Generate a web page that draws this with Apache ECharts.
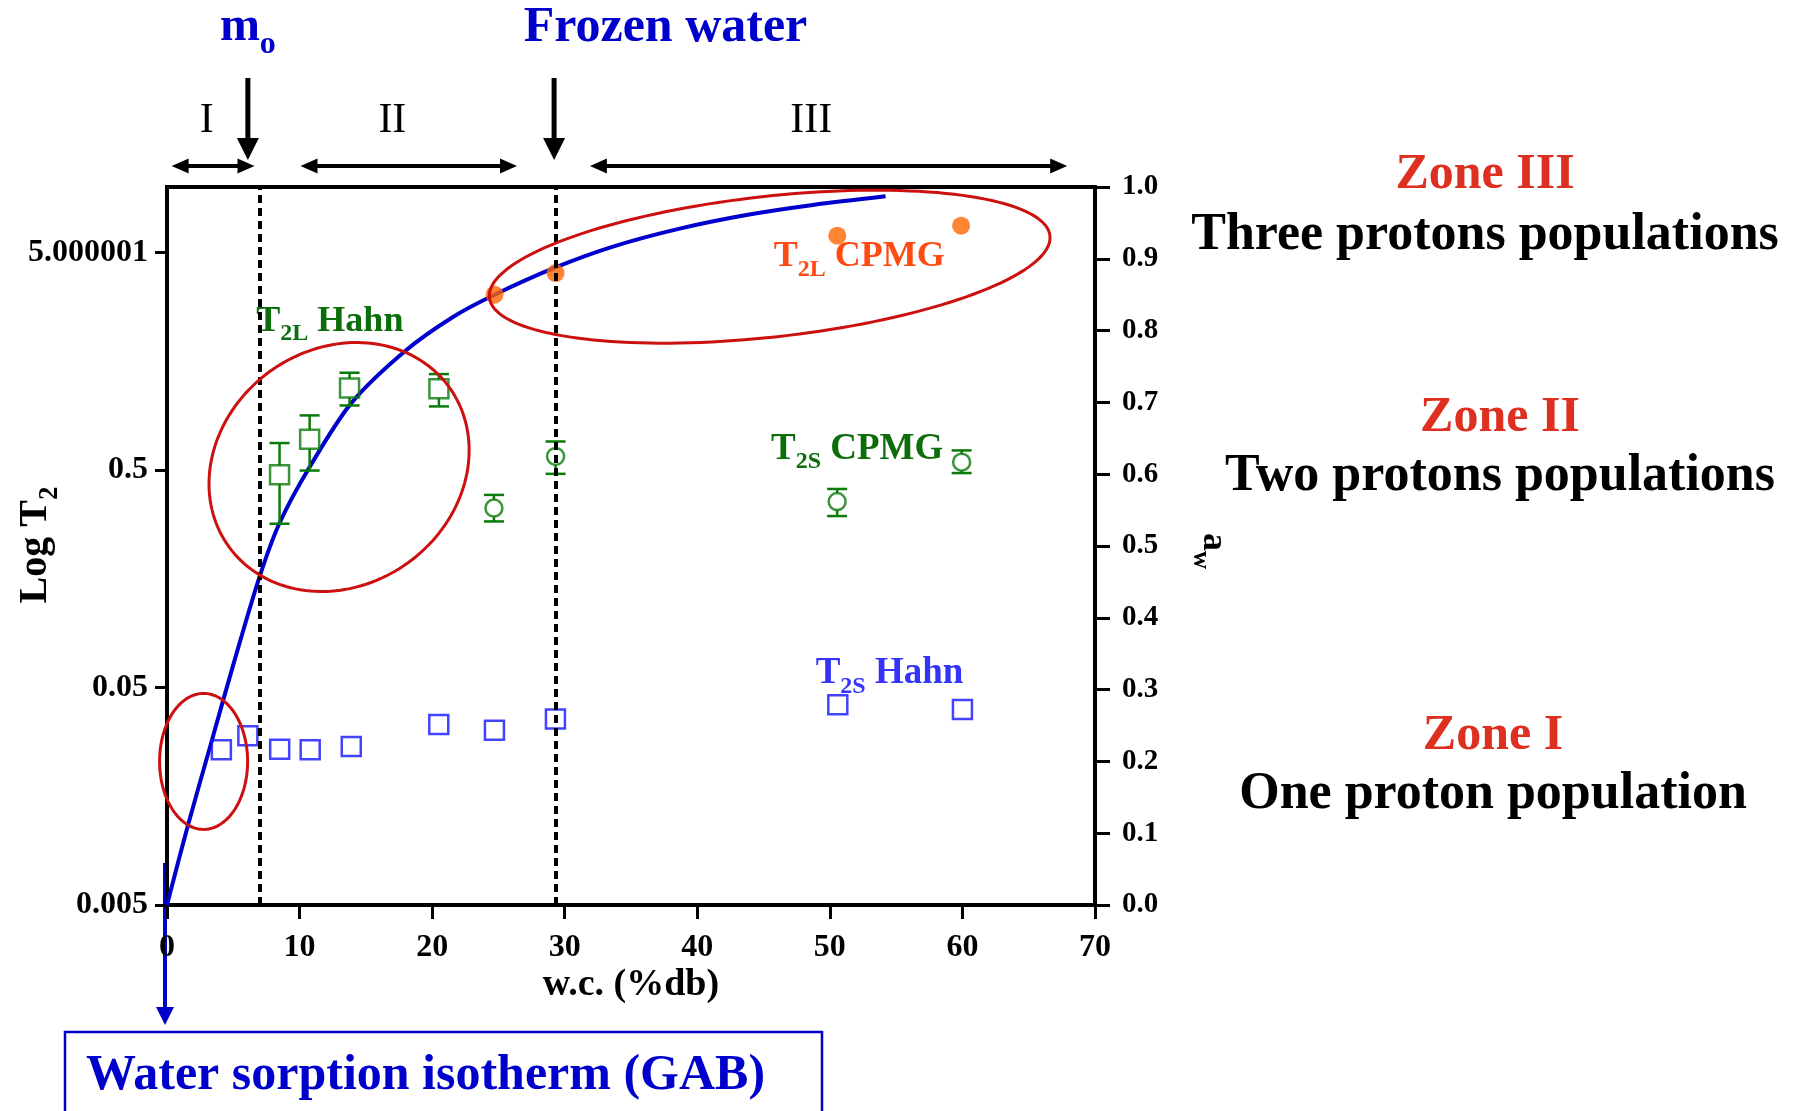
<!DOCTYPE html>
<html><head><meta charset="utf-8">
<script src="https://cdn.jsdelivr.net/npm/echarts@6/dist/echarts.min.js"></script>
<style>html,body{margin:0;padding:0;background:#fff}#c{width:1798px;height:1111px}</style>
</head><body><div id="c"></div>
<script>
// ---------- data ----------
const xTicks = [0, 10, 20, 30, 40, 50, 60, 70];
const leftTickValues = [0.005, 0.05, 0.5, 5];
const leftTickLabels = ['0.005', '0.05', '0.5', '5.000001'];
const rightTickValues = [0.0, 0.1, 0.2, 0.3, 0.4, 0.5, 0.6, 0.7, 0.8, 0.9, 1.0];

// GAB sorption isotherm (w.c. %db vs aw)
const gabWc = [0, 1.55, 3.25, 5.1, 6.98, 8.49, 10.76, 13.9, 17.92, 21.57, 24.71, 29.31, 33.64, 38.67, 43.7, 48.72, 54.2];
const gabAw = [0, 0.109, 0.2205, 0.341, 0.457, 0.532, 0.610, 0.699, 0.771, 0.819, 0.850, 0.888, 0.917, 0.942, 0.961, 0.975, 0.987];

// T2S Hahn (blue open squares)
const t2sHahnWc = [4.1, 6.1, 8.5, 10.8, 13.9, 20.5, 24.7, 29.3, 50.6, 60.0];
const t2sHahnT2 = [0.0259, 0.0300, 0.0260, 0.0259, 0.0268, 0.0338, 0.0318, 0.0358, 0.0416, 0.0396];

// T2L Hahn (green open squares with error bars)
const t2lHahnWc = [8.49, 10.76, 13.77, 20.51];
const t2lHahnT2 = [0.475, 0.693, 1.19, 1.18];
const t2lHahnLow = [0.283, 0.497, 0.99, 0.98];
const t2lHahnHigh = [0.665, 0.891, 1.40, 1.38];

// T2S CPMG (green open circles with error bars)
const t2sCpmgWc = [24.66, 29.31, 50.55, 59.94];
const t2sCpmgT2 = [0.334, 0.577, 0.358, 0.543];
const t2sCpmgLow = [0.290, 0.480, 0.307, 0.484];
const t2sCpmgHigh = [0.384, 0.676, 0.409, 0.615];

// T2L CPMG (orange filled circles)
const t2lCpmgWc = [24.71, 29.31, 50.56, 59.9];
const t2lCpmgT2 = [3.2, 4.02, 5.97, 6.64];

// boundaries (dashed lines): m0 and frozen water
const boundaries = [6.98, 29.31];

// red ellipses: [centre w.c., centre aw, half-axis in w.c. units, half-axis in aw units, tilt deg]
const ellipses = [
  [2.76, 0.200, 3.32, 0.0947, 0],
  [12.98, 0.610, 10.26, 0.1643, 36],
  [45.46, 0.889, 21.27, 0.098, 6.3]
];

// top annotation positions (w.c. units)
const zoneRanges = [[0.35, 6.6], [10.07, 26.4], [31.9, 67.9]];
const zoneRoman = ['I', 'II', 'III'];
const zoneRomanX = [3.0, 17.0, 48.6];
const downArrowX = [6.1, 29.2];

// ---------- style ----------
const F = 'Liberation Serif';
const GREEN = '#0a7a0a', GREEN_T = '#0b6e0b', BLUE = '#0000cc', BLUE2 = '#1414ff', BLUE2_T = '#3434f8';
const ORANGE = '#ff6600', ORANGE_T = '#ff4a12', RED = '#cc0f0f', ZRED = '#de3020';

const chart = echarts.init(document.getElementById('c'));

function zip(a, b) { return a.map((v, i) => [v, b[i]]); }

function errBarSeries(wc, c, lo, hi, half) {
  return {
    type: 'custom', xAxisIndex: 0, yAxisIndex: 0, z: 3, silent: true,
    data: wc.map((x, i) => [x, c[i], lo[i], hi[i]]),
    renderItem(params, api) {
      const pc = api.coord([api.value(0), api.value(1)]);
      const pl = api.coord([api.value(0), api.value(2)]);
      const ph = api.coord([api.value(0), api.value(3)]);
      const cap = 10, st = { stroke: GREEN, lineWidth: 2.5 };
      const ch = [
        { type: 'line', shape: { x1: pc[0] - cap, y1: ph[1], x2: pc[0] + cap, y2: ph[1] }, style: st },
        { type: 'line', shape: { x1: pc[0] - cap, y1: pl[1], x2: pc[0] + cap, y2: pl[1] }, style: st }
      ];
      if (ph[1] < pc[1] - half) ch.push({ type: 'line', shape: { x1: pc[0], y1: ph[1], x2: pc[0], y2: pc[1] - half }, style: st });
      if (pl[1] > pc[1] + half) ch.push({ type: 'line', shape: { x1: pc[0], y1: pc[1] + half, x2: pc[0], y2: pl[1] }, style: st });
      return { type: 'group', children: ch };
    }
  };
}

function labelFor(v) {
  for (let i = 0; i < leftTickValues.length; i++) {
    if (Math.abs(Math.log10(v) - Math.log10(leftTickValues[i])) < 0.01) return leftTickLabels[i];
  }
  return '';
}

const option = {
  animation: false,
  backgroundColor: '#fff',
  textStyle: { fontFamily: F },
  grid: { left: 167, right: 703, top: 187, bottom: 206, containLabel: false, outerBoundsMode: 'none',
    show: true, borderColor: '#000', borderWidth: 4, backgroundColor: 'transparent' },
  xAxis: {
    type: 'value', min: xTicks[0], max: xTicks[xTicks.length - 1], interval: 10,
    axisLine: { lineStyle: { color: '#000', width: 4 } },
    axisTick: { length: 14, lineStyle: { color: '#000', width: 3 } },
    splitLine: { show: false },
    axisLabel: { color: '#000', fontSize: 32, fontWeight: 'bold', fontFamily: F, margin: 27 },
    name: 'w.c. (%db)', nameLocation: 'middle', nameGap: 61, nameMoveOverlap: false,
    nameTextStyle: { color: '#000', fontSize: 38, fontWeight: 'bold', fontFamily: F }
  },
  yAxis: [
    {
      type: 'log', logBase: 10, min: 0.005, max: 10, position: 'left',
      axisLine: { show: true, lineStyle: { color: '#000', width: 4 } },
      axisTick: { show: true, customValues: leftTickValues, length: 12, lineStyle: { color: '#000', width: 3 } },
      axisLabel: { customValues: leftTickValues, formatter: labelFor, color: '#000', fontSize: 32, fontWeight: 'bold', fontFamily: F, margin: 19 },
      splitLine: { show: false }, minorTick: { show: false }
    },
    {
      type: 'value', min: 0, max: 1, interval: 0.1, position: 'right',
      axisLine: { show: true, lineStyle: { color: '#000', width: 4 } },
      axisTick: { show: true, length: 15, lineStyle: { color: '#000', width: 3 } },
      axisLabel: { formatter: v => v.toFixed(1), color: '#000', fontSize: 29, fontWeight: 'bold', fontFamily: F, margin: 27 },
      splitLine: { show: false }
    }
  ],
  series: [
    {
      type: 'line', name: 'GAB', xAxisIndex: 0, yAxisIndex: 1, z: 2, smooth: 0.3, showSymbol: false, silent: true,
      data: zip(gabWc, gabAw), lineStyle: { color: BLUE, width: 4 },
      markLine: { silent: true, symbol: ['none', 'none'], label: { show: false },
        lineStyle: { color: '#000', type: [8, 5], width: 4 }, data: boundaries.map(v => ({ xAxis: v })) }
    },
    errBarSeries(t2lHahnWc, t2lHahnT2, t2lHahnLow, t2lHahnHigh, 9.5),
    errBarSeries(t2sCpmgWc, t2sCpmgT2, t2sCpmgLow, t2sCpmgHigh, 8.5),
    {
      type: 'scatter', name: 'T2S Hahn', xAxisIndex: 0, yAxisIndex: 0, z: 4, silent: true,
      data: zip(t2sHahnWc, t2sHahnT2), symbol: 'rect', symbolSize: 19,
      itemStyle: { color: 'rgba(0,0,0,0)', borderColor: BLUE2, borderWidth: 2.5 }
    },
    {
      type: 'scatter', name: 'T2L Hahn', xAxisIndex: 0, yAxisIndex: 0, z: 4, silent: true,
      data: zip(t2lHahnWc, t2lHahnT2), symbol: 'rect', symbolSize: 19,
      itemStyle: { color: 'rgba(0,0,0,0)', borderColor: GREEN, borderWidth: 2.5 }
    },
    {
      type: 'scatter', name: 'T2S CPMG', xAxisIndex: 0, yAxisIndex: 0, z: 4, silent: true,
      data: zip(t2sCpmgWc, t2sCpmgT2), symbol: 'circle', symbolSize: 17,
      itemStyle: { color: 'rgba(0,0,0,0)', borderColor: GREEN, borderWidth: 2.5 }
    },
    {
      type: 'scatter', name: 'T2L CPMG', xAxisIndex: 0, yAxisIndex: 0, z: 4, silent: true,
      data: zip(t2lCpmgWc, t2lCpmgT2), symbol: 'circle', symbolSize: 18,
      itemStyle: { color: ORANGE }
    },
    {
      type: 'custom', name: 'zones', xAxisIndex: 0, yAxisIndex: 1, z: 5, silent: true, clip: false,
      data: ellipses,
      renderItem(params, api) {
        const c = api.coord([api.value(0), api.value(1)]);
        const px = api.coord([api.value(0) + api.value(2), api.value(1)]);
        const py = api.coord([api.value(0), api.value(1) + api.value(3)]);
        const rx = Math.abs(px[0] - c[0]), ry = Math.abs(py[1] - c[1]);
        const th = api.value(4) * Math.PI / 180;
        const pts = [];
        for (let k = 0; k < 160; k++) {
          const t = k / 160 * Math.PI * 2;
          const ex = rx * Math.cos(t), ey = ry * Math.sin(t);
          pts.push([c[0] + ex * Math.cos(th) - ey * Math.sin(th), c[1] - (ex * Math.sin(th) + ey * Math.cos(th))]);
        }
        return { type: 'polygon', shape: { points: pts }, style: { fill: 'none', stroke: RED, lineWidth: 3 } };
      }
    }
  ]
};
chart.setOption(option);

// ---------- annotations ----------
const X = v => chart.convertToPixel({ xAxisIndex: 0 }, v);
const YA = v => chart.convertToPixel({ yAxisIndex: 1 }, v);

function arrow(x1, y1, x2, y2, color, w, hl, hw, both) {
  const dx = x2 - x1, dy = y2 - y1, L = Math.hypot(dx, dy), ux = dx / L, uy = dy / L, nx = -uy, ny = ux;
  const els = [];
  const sx = both ? x1 + ux * hl * 0.8 : x1, sy = both ? y1 + uy * hl * 0.8 : y1;
  els.push({ type: 'line', shape: { x1: sx, y1: sy, x2: x2 - ux * hl * 0.8, y2: y2 - uy * hl * 0.8 }, style: { stroke: color, lineWidth: w } });
  els.push({ type: 'polygon', shape: { points: [[x2, y2], [x2 - ux * hl + nx * hw / 2, y2 - uy * hl + ny * hw / 2], [x2 - ux * hl - nx * hw / 2, y2 - uy * hl - ny * hw / 2]] }, style: { fill: color } });
  if (both) els.push({ type: 'polygon', shape: { points: [[x1, y1], [x1 + ux * hl + nx * hw / 2, y1 + uy * hl + ny * hw / 2], [x1 + ux * hl - nx * hw / 2, y1 + uy * hl - ny * hw / 2]] }, style: { fill: color } });
  return els;
}

function subText(x, y, parts, size, subSize, color, align, weight, rotation) {
  const txt = parts.map(p => p[1] ? '{s|' + p[0] + '}' : '{t|' + p[0] + '}').join('');
  return {
    type: 'text', x, y, rotation: rotation || 0, silent: true,
    style: {
      text: txt, align: align || 'left', verticalAlign: 'middle',
      rich: {
        t: { fontSize: size, fontFamily: F, fontWeight: weight || 'bold', fill: color, lineHeight: Math.round(size * 1.5) },
        s: { fontSize: subSize, fontFamily: F, fontWeight: weight || 'bold', fill: color, lineHeight: subSize, padding: [Math.round(size * 0.7), 0, 0, 0] }
      }
    }
  };
}

function plainText(x, y, text, size, color, weight, align) {
  return { type: 'text', x, y, silent: true, style: { text, fontSize: size, fontFamily: F, fontWeight: weight || 'bold', fill: color, align: align || 'center', verticalAlign: 'middle' } };
}

const g = [];
// axis titles
g.push(subText(36, 545, [['Log T', 0], ['2', 1]], 40, 27, '#000', 'center', 'bold', Math.PI / 2));
g.push(subText(1213, 551, [['a', 0], ['w', 1]], 36, 25, '#000', 'center', 'bold', -Math.PI / 2));

// top headings
g.push(plainText(X(37.6), 28, 'Frozen water', 50, BLUE));
g.push(subText(X(downArrowX[0]), 28, [['m', 0], ['o', 1]], 48, 32, BLUE, 'center'));
zoneRoman.forEach((r, i) => g.push(plainText(X(zoneRomanX[i]), 121, r, 42, '#000', 'normal')));
zoneRanges.forEach(r => g.push(...arrow(X(r[0]), 166, X(r[1]), 166, '#000', 4, 17, 15, true)));
downArrowX.forEach(v => g.push(...arrow(X(v), 78, X(v), 160, '#000', 5, 22, 22, false)));

// in-plot series labels
g.push(subText(X(6.74), YA(0.8127), [['T', 0], ['2L', 1], [' Hahn', 0]], 36, 24, GREEN_T));
g.push(subText(X(45.76), YA(0.9025), [['T', 0], ['2L', 1], [' CPMG', 0]], 36, 24, ORANGE_T));
g.push(subText(X(45.56), YA(0.635), [['T', 0], ['2S', 1], [' CPMG', 0]], 37, 24, GREEN_T));
g.push(subText(X(48.93), YA(0.322), [['T', 0], ['2S', 1], [' Hahn', 0]], 37, 24, BLUE2_T));

// right side zone descriptions
g.push(plainText(1485, 175, 'Zone III', 50, ZRED));
g.push(plainText(1485, 236, 'Three protons populations', 52, '#000'));
g.push(plainText(1500, 418, 'Zone II', 50, ZRED));
g.push(plainText(1500, 477, 'Two protons populations', 52, '#000'));
g.push(plainText(1493, 736, 'Zone I', 50, ZRED));
g.push(plainText(1493, 795, 'One proton population', 52, '#000'));

// GAB box + arrow
const x0 = X(0) - 2;
g.push(...arrow(x0, 863, x0, 1025, BLUE, 4, 18, 18, false));
g.push({ type: 'rect', silent: true, shape: { x: 65, y: 1032, width: 757, height: 110 }, style: { fill: 'none', stroke: BLUE, lineWidth: 2.5 } });
g.push(plainText(86, 1076, 'Water sorption isotherm (GAB)', 50, BLUE, 'bold', 'left'));

chart.setOption({ graphic: { elements: g } });
</script>
</body></html>
